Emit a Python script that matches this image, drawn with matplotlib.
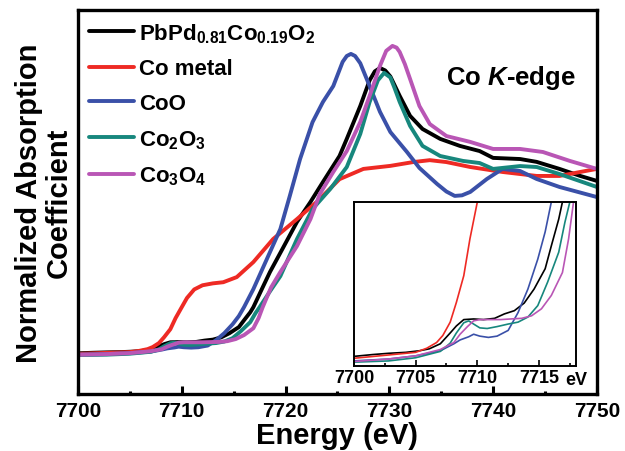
import numpy as np
import matplotlib
matplotlib.use("Agg")
import matplotlib.pyplot as plt
from matplotlib.ticker import MultipleLocator

plt.rcParams['font.family'] = ['Liberation Sans', 'DejaVu Sans']
plt.rcParams['font.weight'] = 'bold'
plt.rcParams['mathtext.fontset'] = 'custom'
plt.rcParams['mathtext.rm'] = 'Liberation Sans:bold'
plt.rcParams['mathtext.bf'] = 'Liberation Sans:bold'
plt.rcParams['mathtext.it'] = 'Liberation Sans:bold:italic'

# Co K-edge XANES (energy in eV, normalized absorption)
e_pbpd = [7699.9, 7701.5, 7702.8, 7704.2, 7705.3, 7706.1, 7707.0, 7707.8, 7708.3, 7708.9,
          7709.7, 7710.5, 7711.4, 7712.2, 7713.0, 7713.8, 7714.6, 7715.5, 7716.0, 7716.6,
          7716.9, 7717.7, 7718.5, 7719.7, 7721.1, 7722.4, 7723.6, 7725.2, 7725.9, 7727.2,
          7728.1, 7728.6, 7729.1, 7729.6, 7730.1, 7730.5, 7731.0, 7732.0, 7733.2, 7734.9,
          7736.8, 7738.7, 7740.0, 7742.6, 7744.2, 7746.4, 7748.4, 7750.0]
mu_pbpd = [0.004, 0.007, 0.009, 0.0105, 0.013, 0.016, 0.024, 0.041, 0.052, 0.062,
           0.063, 0.062, 0.064, 0.071, 0.076, 0.088, 0.110, 0.142, 0.178, 0.220,
           0.247, 0.340, 0.432, 0.553, 0.695, 0.800, 0.905, 1.042, 1.132, 1.305,
           1.440, 1.487, 1.505, 1.492, 1.460, 1.415, 1.358, 1.253, 1.184, 1.132,
           1.095, 1.068, 1.032, 1.026, 1.011, 0.974, 0.937, 0.911]

e_co = [7699.9, 7702.6, 7705.0, 7705.9, 7706.7, 7707.2, 7707.8, 7708.3, 7708.9, 7709.4,
        7710.0, 7710.5, 7711.2, 7712.0, 7713.0, 7714.0, 7715.3, 7716.9, 7718.8, 7721.1,
        7723.0, 7725.2, 7727.5, 7730.1, 7732.3, 7733.9, 7735.5, 7737.8, 7740.9, 7744.2,
        7746.4, 7748.4, 7750.0]
mu_co = [0.001, 0.006, 0.0105, 0.017, 0.026, 0.037, 0.058, 0.089, 0.131, 0.189,
         0.247, 0.295, 0.340, 0.362, 0.372, 0.378, 0.405, 0.484, 0.605, 0.710,
         0.800, 0.920, 0.974, 0.990, 1.010, 1.020, 1.010, 0.984, 0.958, 0.937,
         0.937, 0.958, 0.974]

e_coo = [7699.9, 7702.8, 7705.0, 7707.0, 7708.1, 7708.6, 7709.3, 7709.7, 7710.2, 7710.9,
         7711.6, 7712.5, 7713.3, 7714.1, 7714.9, 7715.5, 7716.0, 7716.9, 7718.2, 7719.5,
         7720.4, 7721.4, 7722.6, 7723.6, 7724.6, 7725.5, 7725.9, 7726.3, 7726.7, 7727.2,
         7728.1, 7729.1, 7730.1, 7731.7, 7732.9, 7734.6, 7735.5, 7736.3, 7737.0, 7737.8,
         7739.4, 7740.9, 7742.6, 7744.2, 7746.4, 7750.0]
mu_coo = [-0.003, 0.000, 0.005, 0.013, 0.024, 0.030, 0.035, 0.039, 0.036, 0.034,
          0.036, 0.045, 0.073, 0.110, 0.157, 0.200, 0.247, 0.342, 0.500, 0.658,
          0.830, 1.026, 1.220, 1.326, 1.410, 1.537, 1.568, 1.579, 1.568, 1.530,
          1.410, 1.274, 1.168, 1.063, 0.979, 0.895, 0.855, 0.832, 0.835, 0.853,
          0.921, 0.974, 0.963, 0.921, 0.879, 0.826]

e_co2o3 = [7699.9, 7702.8, 7705.0, 7707.0, 7707.8, 7708.3, 7708.9, 7709.3, 7709.7, 7710.2,
           7710.8, 7711.6, 7712.5, 7713.3, 7714.1, 7714.9, 7715.7, 7716.6, 7717.1, 7717.5,
           7718.5, 7719.5, 7721.1, 7722.6, 7724.3, 7725.9, 7727.2, 7728.1, 7728.9, 7729.5,
           7730.1, 7730.5, 7731.0, 7732.0, 7733.2, 7734.9, 7737.1, 7738.7, 7740.0, 7742.6,
           7744.2, 7746.4, 7750.0]
mu_co2o3 = [-0.005, -0.003, 0.002, 0.012, 0.025, 0.041, 0.057, 0.060, 0.055, 0.049,
            0.048, 0.051, 0.055, 0.058, 0.066, 0.084, 0.121, 0.168, 0.215, 0.247,
            0.330, 0.410, 0.605, 0.763, 0.868, 0.984, 1.158, 1.326, 1.440, 1.479,
            1.455, 1.400, 1.326, 1.200, 1.095, 1.042, 1.016, 1.005, 0.974, 0.989,
            0.984, 0.947, 0.879]

e_co3o4 = [7699.9, 7702.8, 7705.0, 7707.0, 7708.1, 7708.6, 7709.2, 7709.7, 7710.2, 7711.1,
           7711.9, 7712.7, 7713.6, 7714.4, 7715.2, 7716.0, 7716.9, 7717.4, 7717.8, 7718.6,
           7719.5, 7721.1, 7722.4, 7723.3, 7724.6, 7725.9, 7727.2, 7728.1, 7729.1, 7729.7,
           7730.3, 7730.7, 7731.0, 7731.5, 7732.0, 7732.9, 7733.9, 7735.5, 7737.8, 7740.0,
           7742.6, 7744.8, 7747.4, 7750.0]
mu_co3o4 = [-0.004, 0.000, 0.005, 0.015, 0.026, 0.039, 0.051, 0.060, 0.062, 0.062,
            0.062, 0.063, 0.064, 0.068, 0.079, 0.100, 0.136, 0.189, 0.247, 0.350,
            0.432, 0.568, 0.710, 0.842, 0.958, 1.068, 1.221, 1.358, 1.516, 1.595,
            1.621, 1.612, 1.589, 1.525, 1.447, 1.305, 1.210, 1.147, 1.116, 1.079,
            1.079, 1.063, 1.016, 0.974]

labels = [r"$\mathregular{PbPd_{0.81}Co_{0.19}O_2}$", "Co metal", "CoO",
          r"$\mathregular{Co_2O_3}$", r"$\mathregular{Co_3O_4}$"]
colors = ["#000000", "#ee2a24", "#3a50a8", "#17877d", "#b956b5"]
energies = [e_pbpd, e_co, e_coo, e_co2o3, e_co3o4]
mus = [mu_pbpd, mu_co, mu_coo, mu_co2o3, mu_co3o4]

fig = plt.figure(figsize=(6.25, 4.52), dpi=100)
ax = fig.add_axes([0.1248, 0.1261, 0.8302, 0.8496])

for e, m, c, lab in zip(energies, mus, colors, labels):
    ax.plot(e, m, color=c, lw=2.8, label=lab, solid_capstyle='round',
            solid_joinstyle='round')

ax.set_xlim(7700, 7750)
ax.set_ylim(-0.21, 1.81)
ax.xaxis.set_major_locator(MultipleLocator(10))
ax.xaxis.set_minor_locator(MultipleLocator(5))
ax.tick_params(axis='x', which='major', direction='in', length=6, width=2.2,
               labelsize=15, pad=5)
ax.tick_params(axis='x', which='minor', direction='in', length=2.5, width=2.2)
ax.set_yticks([])
for sp in ax.spines.values():
    sp.set_linewidth(2.4)

ax.set_xlabel("Energy (eV)", fontsize=21, fontweight='bold', labelpad=1)
ax.set_ylabel("Normalized Absorption\nCoefficient", fontsize=21, fontweight='bold',
              labelpad=4, linespacing=1.05)

ax.legend(loc='upper left', bbox_to_anchor=(0.0, 1.0), frameon=False, fontsize=16,
          handlelength=2.0, handletextpad=0.25, labelspacing=0.62, borderaxespad=0.1)

ax.text(0.71, 0.826, "Co $\\mathit{K}$-edge", transform=ax.transAxes, fontsize=18.5,
        fontweight='bold', ha='left', va='center')

# inset: pre-edge region
ax_in = fig.add_axes([0.5664, 0.188, 0.3552, 0.363])
for e, m, c in zip(energies, mus, colors):
    ax_in.plot(e, m, color=c, lw=1.2, solid_joinstyle='round')
ax_in.set_xlim(7700, 7718)
ax_in.set_ylim(-0.011, 0.247)
ax_in.xaxis.set_major_locator(MultipleLocator(5))
ax_in.xaxis.set_minor_locator(MultipleLocator(2.5))
ax_in.tick_params(axis='x', which='major', direction='in', length=4, width=1.2,
                  labelsize=13, pad=2)
ax_in.tick_params(axis='x', which='minor', direction='in', length=2.5, width=1.2)
ax_in.set_yticks([])
for sp in ax_in.spines.values():
    sp.set_linewidth(1.4)
ax_in.text(1.0, -0.08, "eV", transform=ax_in.transAxes, fontsize=13,
           fontweight='bold', ha='center', va='center')

fig.savefig("out.png", dpi=100)
